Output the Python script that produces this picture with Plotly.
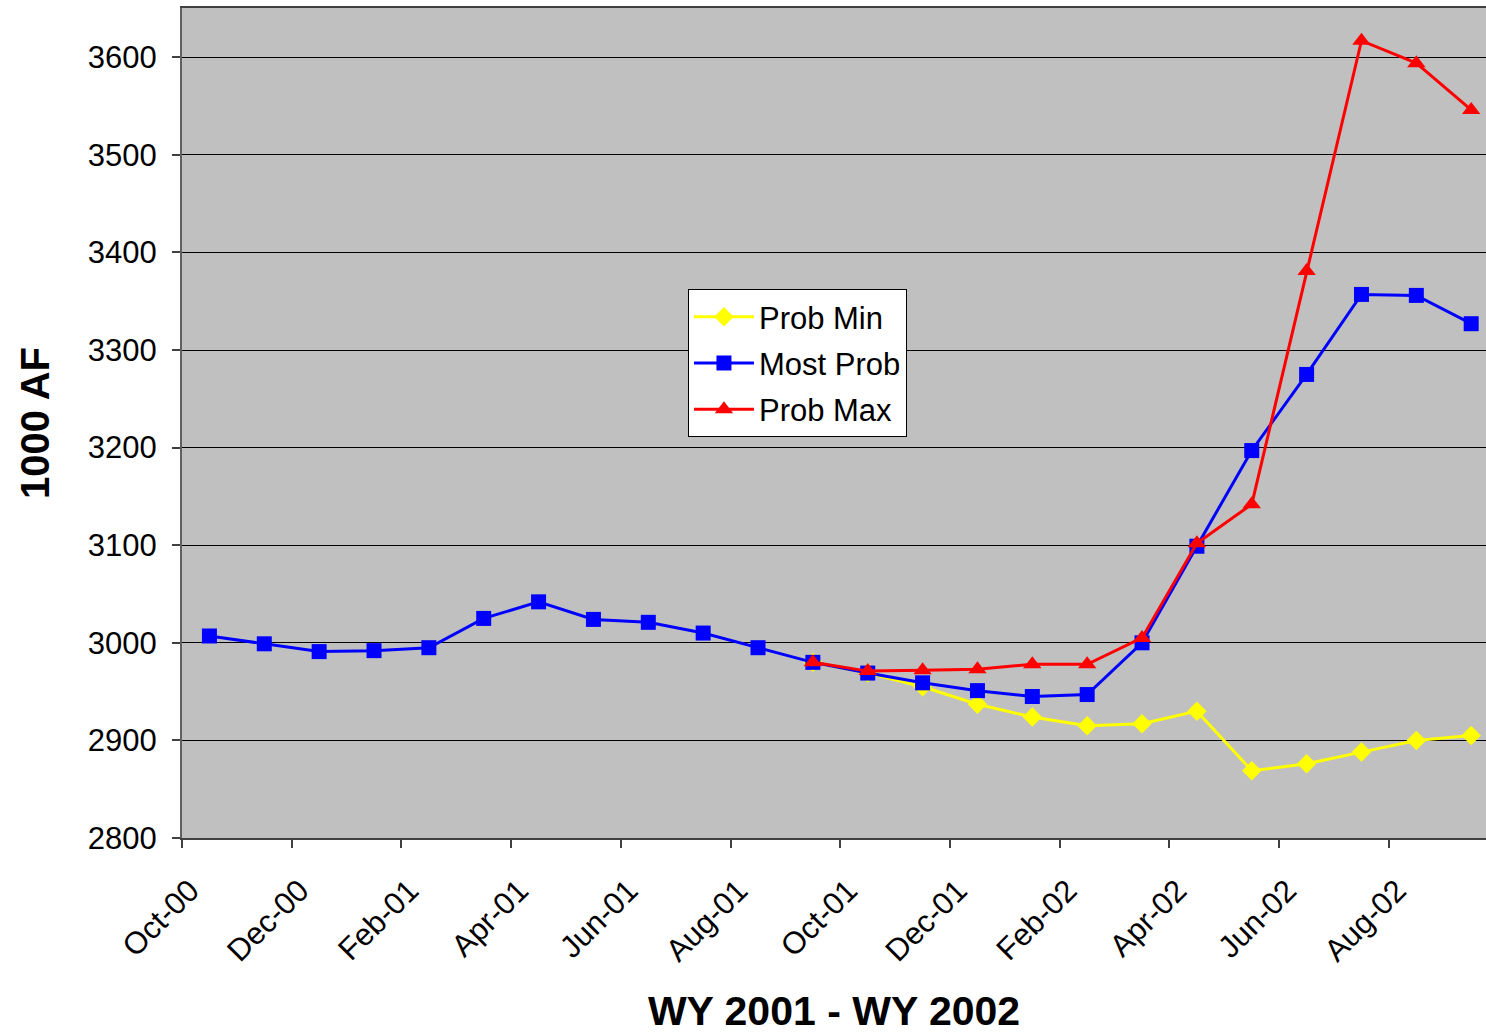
import plotly.graph_objects as go

months = ["Oct-00", "Nov-00", "Dec-00", "Jan-01", "Feb-01", "Mar-01", "Apr-01", "May-01",
          "Jun-01", "Jul-01", "Aug-01", "Sep-01", "Oct-01", "Nov-01", "Dec-01", "Jan-02",
          "Feb-02", "Mar-02", "Apr-02", "May-02", "Jun-02", "Jul-02", "Aug-02", "Sep-02"]

most_prob = [3007, 2999, 2991, 2992, 2995, 3025, 3042, 3024, 3021, 3010, 2995, 2980,
             2969, 2959, 2951, 2945, 2947, 3000, 3099, 3197, 3275, 3357, 3356, 3327]

prob_min = [None] * 11 + [2980, 2969, 2955, 2937, 2924, 2915, 2917, 2930, 2869, 2876,
                          2888, 2900, 2905]

prob_max = [None] * 11 + [2980, 2971, 2972, 2973, 2978, 2978, 3005, 3102, 3142, 3381,
                          3617, 3594, 3546]

tick_labels = ["Oct-00", "Dec-00", "Feb-01", "Apr-01", "Jun-01", "Aug-01",
               "Oct-01", "Dec-01", "Feb-02", "Apr-02", "Jun-02", "Aug-02"]

x = list(range(len(months)))
tick_pos = [i * 2 - 0.5 for i in range(len(tick_labels))]

FONT = "Liberation Sans, Arial, sans-serif"

fig = go.Figure()
fig.add_trace(go.Scatter(x=x, y=prob_min, name="Prob Min", mode="lines+markers",
                         legendgroup="a",
                         line=dict(color="#FFFF00", width=3),
                         marker=dict(symbol="diamond", size=15, color="#FFFF00")))
fig.add_trace(go.Scatter(x=x, y=most_prob, name="Most Prob", mode="lines+markers",
                         legendgroup="b",
                         line=dict(color="#0000FF", width=3),
                         marker=dict(symbol="square", size=15, color="#0000FF")))
fig.add_trace(go.Scatter(x=x, y=prob_max, name="Prob Max", mode="lines+markers",
                         legendgroup="c",
                         line=dict(color="#FF0000", width=3),
                         marker=dict(symbol="triangle-up", size=16, color="#FF0000")))

fig.update_layout(
    width=1486, height=1034,
    margin=dict(l=182, r=0, t=8, b=196),
    paper_bgcolor="white",
    plot_bgcolor="#C0C0C0",
    font=dict(family=FONT, color="black", size=31),
    showlegend=True,
    legend=dict(x=0.388, y=0.6614, xanchor="left", yanchor="top",
                bgcolor="white", bordercolor="black", borderwidth=1,
                font=dict(family=FONT, size=31, color="black"),
                tracegroupgap=3, itemwidth=60),
    xaxis=dict(
        range=[-0.5, 23.27], automargin=False,
        tickmode="array", tickvals=tick_pos, ticktext=tick_labels,
        tickangle=-45, ticks="outside", ticklen=8, tickcolor="#404040", tickwidth=2,
        ticklabelshift=8, ticklabelstandoff=12,
        showgrid=False, zeroline=False,
        showline=True, linecolor="#404040", linewidth=2, mirror=True,
        tickfont=dict(family=FONT, size=31),
        title=dict(text="<b>WY 2001 - WY 2002</b>", font=dict(family=FONT, size=41), standoff=34),
    ),
    yaxis=dict(
        range=[2800, 3650.5], automargin=True,
        tickmode="array", tickvals=[2800, 2900, 3000, 3100, 3200, 3300, 3400, 3500, 3600],
        ticks="outside", ticklen=8, tickcolor="#404040", tickwidth=2,
        ticklabelstandoff=9,
        showgrid=True, gridcolor="black", gridwidth=1,
        zeroline=False, showline=True, linecolor="#606060", linewidth=2,
        tickfont=dict(family=FONT, size=31),
        title=dict(text="<b>1000 AF</b>", font=dict(family=FONT, size=40), standoff=26),
    ),
)

fig.write_html(
    "out.html",
    config={"displayModeBar": False},
    post_script="document.body.style.margin='0';document.body.style.overflow='hidden';",
)
